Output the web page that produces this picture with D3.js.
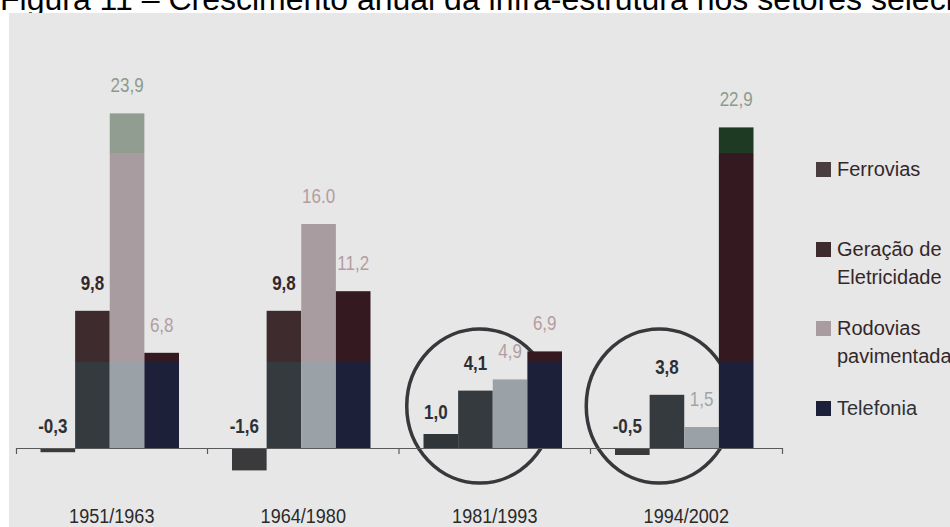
<!DOCTYPE html>
<html>
<head>
<meta charset="utf-8">
<script src="https://cdn.jsdelivr.net/npm/d3@7"></script>
<style>
  html, body { margin: 0; padding: 0; background: #fff; overflow: hidden; }
  svg { display: block; }
</style>
</head>
<body>
<svg id="chart" width="950" height="527"></svg>
<script>
// ---- data ----
const categories = ["1951/1963", "1964/1980", "1981/1993", "1994/2002"];
const seriesKeys = ["ferrovias", "geracao", "rodovias", "telefonia"];
const legendLines = [["Ferrovias"], ["Geração de", "Eletricidade"], ["Rodovias", "pavimentadas"], ["Telefonia"]];
const ferrovias = [-0.3, -1.6, 1.0, -0.5];
const geracao   = [9.8, 9.8, 4.1, 3.8];
const rodovias  = [23.9, 16.0, 4.9, 1.5];
const telefonia = [6.8, 11.2, 6.9, 22.9];
const ferroviasLabels = ["-0,3", "-1,6", "1,0", "-0,5"];
const geracaoLabels   = ["9,8", "9,8", "4,1", "3,8"];
const rodoviasLabels  = ["23,9", "16.0", "4,9", "1,5"];
const telefoniaLabels = ["6,8", "11,2", "6,9", "22,9"];
const highlighted = ["1981/1993", "1994/2002"];
const title = "Figura 11 – Crescimento anual da infra-estrutura nos setores selecionados";

const values = { ferrovias, geracao, rodovias, telefonia };
const labels = { ferrovias: ferroviasLabels, geracao: geracaoLabels, rodovias: rodoviasLabels, telefonia: telefoniaLabels };

// ---- layout ----
const W = 950, H = 527;
const svg = d3.select("#chart");
const sans = "'Liberation Sans', Arial, sans-serif";
const NARROW = 0.85; // horizontal squeeze giving a condensed face

// printed tint bands (horizontal colour shifts across the page)
const toneBreaks = [153, 362, 448];
const palette = {
  ferrovias: ["#3c423c", "#4a3d40", "#303539", "#3a3a3c"],
  geracao:   ["#2e3a2f", "#3d2b2d", "#343a3e", "#38383a"],
  rodovias:  ["#919d91", "#a99ca0", "#9aa2a8", "#a0a0a0"],
  telefonia: ["#1f3a22", "#341a20", "#1c2038", "#1e1e28"],
  darkText:  ["#2e332e", "#332628", "#2d3034", "#2e2e2e"],
  lightText: ["#8c9a8c", "#b39ba0", "#a0a4aa", "#a0a0a0"]
};

const defs = svg.append("defs");
Object.entries(palette).forEach(([key, cols]) => {
  const g = defs.append("linearGradient")
    .attr("id", "tone-" + key)
    .attr("gradientUnits", "userSpaceOnUse")
    .attr("x1", 0).attr("y1", 0).attr("x2", 0).attr("y2", H);
  const b = toneBreaks.map(v => v / H);
  const stops = [
    [0, cols[0]], [b[0], cols[0]], [b[0], cols[1]], [b[1], cols[1]],
    [b[1], cols[2]], [b[2], cols[2]], [b[2], cols[3]], [1, cols[3]]
  ];
  g.selectAll("stop").data(stops).join("stop")
    .attr("offset", d => d[0]).attr("stop-color", d => d[1]);
});

// title (top edge runs off the page)
svg.append("text")
  .attr("x", 0).attr("y", 10)
  .attr("font-family", sans).attr("font-size", 32)
  .attr("fill", "#000")
  .text(title);

// grey panel
svg.append("rect")
  .attr("x", 9).attr("y", 13).attr("width", W - 9).attr("height", H - 13)
  .attr("fill", "#e7e7e7");

// ---- scales ----
const y = d3.scaleLinear().domain([-2, 25]).range([476, 98]);
const x = d3.scaleBand().domain(categories).range([16, 782]);
const xs = d3.scaleBand().domain(seriesKeys).range([24.5, 163]);

// ---- highlight rings ----
const ringOffset = { "1981/1993": -15, "1994/2002": -27 };
svg.append("g").selectAll("ellipse").data(highlighted).join("ellipse")
  .attr("cx", d => x(d) + x.bandwidth() / 2 + ringOffset[d])
  .attr("cy", y(3))
  .attr("rx", 73).attr("ry", 77)
  .attr("fill", "none")
  .attr("stroke", "#38383c")
  .attr("stroke-width", 3.5);

// ---- bars ----
const barData = [];
seriesKeys.forEach(k => categories.forEach((c, i) => {
  barData.push({ key: k, cat: c, v: values[k][i], label: labels[k][i] });
}));

svg.append("g").selectAll("rect").data(barData).join("rect")
  .attr("x", d => x(d.cat) + xs(d.key))
  .attr("y", d => y(Math.max(d.v, 0)))
  .attr("width", xs.bandwidth())
  .attr("height", d => Math.abs(y(d.v) - y(0)))
  .attr("fill", d => `url(#tone-${d.key})`);

// ---- value labels ----
const boldSeries = new Set(["ferrovias", "geracao"]);
svg.append("g").selectAll("text").data(barData).join("text")
  .attr("transform", d => {
    const cx = x(d.cat) + xs(d.key) + xs.bandwidth() / 2 + (d.key === "ferrovias" ? -5 : 0);
    return `translate(${cx},0) scale(${NARROW},1)`;
  })
  .attr("x", 0)
  .attr("y", d => y(Math.max(d.v, 0)) - (d.key === "ferrovias" ? 15 : 21))
  .attr("text-anchor", "middle")
  .attr("font-family", sans)
  .attr("font-size", 20)
  .attr("font-weight", d => boldSeries.has(d.key) ? "bold" : "normal")
  .attr("fill", d => boldSeries.has(d.key) ? "url(#tone-darkText)" : "url(#tone-lightText)")
  .text(d => d.label);

// ---- axis ----
const axisG = svg.append("g")
  .attr("transform", `translate(0,${y(0)})`)
  .call(d3.axisBottom(x).tickSize(0).tickSizeOuter(6).tickPadding(60));
axisG.select(".domain").attr("stroke", "#5a5a5a").attr("stroke-width", 1.2);
axisG.selectAll(".tick text")
  .attr("font-family", sans).attr("font-size", 21).attr("fill", "#2a2a2a")
  .attr("transform", `scale(0.86,1)`);
// separators between period groups
axisG.selectAll("line.sep").data(categories.slice(1)).join("line")
  .attr("class", "sep")
  .attr("x1", d => x(d)).attr("x2", d => x(d))
  .attr("y1", 0).attr("y2", 6)
  .attr("stroke", "#5a5a5a").attr("stroke-width", 1.2);

// ---- legend ----
const legendTop = [162, 242, 321, 401];
const legend = svg.append("g");
seriesKeys.forEach((k, i) => {
  legend.append("rect")
    .attr("x", 816).attr("y", legendTop[i])
    .attr("width", 15).attr("height", 15)
    .attr("fill", `url(#tone-${k})`);
  legend.append("text")
    .attr("font-family", sans).attr("font-size", 20)
    .attr("fill", "url(#tone-darkText)")
    .selectAll("tspan").data(legendLines[i]).join("tspan")
    .attr("x", 837)
    .attr("y", (d, j) => legendTop[i] + 14 + j * 27.5)
    .text(d => d);
});
</script>
</body>
</html>
